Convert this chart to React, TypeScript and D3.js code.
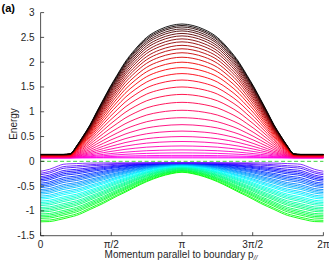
import React from "react";
import * as d3 from "d3";

// momentum sample positions on [0, π] (mirrored to [π, 2π])
const pHalf = [0, 0.2, 0.4, 0.5, 0.655, 0.8, 0.937, 1.1, 1.247, 1.4, 1.543, 1.7, 1.876, 2.1, 2.357, 2.65, 2.9, Math.PI];
// envelope curves
const upperTop = [0.14, 0.14, 0.14, 0.14, 0.15, 0.31, 0.5, 0.74, 1.0, 1.26, 1.5, 1.74, 2.0, 2.26, 2.5, 2.66, 2.74, 2.77];
const upperBottom = [0.07, 0.07, 0.07, 0.07, 0.07, 0.07, 0.07, 0.07, 0.07, 0.07, 0.07, 0.07, 0.07, 0.07, 0.07, 0.07, 0.07, 0.07];
const lowerTop = [-0.2, -0.16, -0.09, -0.06, -0.05, -0.045, -0.04, -0.035, -0.033, -0.032, -0.031, -0.03, -0.03, -0.03, -0.03, -0.03, -0.03, -0.03];
const lowerBottom = [-1.22, -1.215, -1.18, -1.16, -1.125, -1.09, -1.04, -0.97, -0.91, -0.845, -0.775, -0.70, -0.625, -0.52, -0.41, -0.31, -0.25, -0.22];
// upper-band levels at p = π (bottom → top)
const upperAtPi = [0.07, 0.09, 0.12, 0.17, 0.23, 0.31, 0.4, 0.5, 0.61, 0.74, 0.88, 1.03, 1.19, 1.35, 1.5, 1.64, 1.77, 1.89, 2.0, 2.1, 2.19, 2.27, 2.34, 2.41, 2.47, 2.53, 2.58, 2.63, 2.67, 2.71, 2.74, 2.77];
// lower-band levels at p = 0 (bottom → top)
const lowerAtZero = [-1.22, -1.19, -1.15, -1.12, -1.09, -1.06, -1.02, -0.99, -0.96, -0.93, -0.89, -0.86, -0.83, -0.8, -0.76, -0.73, -0.7, -0.66, -0.63, -0.6, -0.57, -0.53, -0.5, -0.47, -0.44, -0.4, -0.37, -0.34, -0.31, -0.27, -0.24, -0.2];

const yTicks = [-1.5, -1, -0.5, 0, 0.5, 1, 1.5, 2, 2.5, 3];
const xTicks = [0, Math.PI / 2, Math.PI, (3 * Math.PI) / 2, 2 * Math.PI];
const xTickLabels = ["0", "π/2", "π", "3π/2", "2π"];

const W = 329;
const H = 263;
const x = d3.scaleLinear().domain([0, 2 * Math.PI]).range([40.6, 323.4]);
const y = d3.scaleLinear().domain([-1.5, 3]).range([235.7, 12.6]);

const pFull = [...pHalf, ...pHalf.slice(0, -1).reverse().map((p) => 2 * Math.PI - p)];
const mirror = (arr: number[]) => [...arr, ...arr.slice(0, -1).reverse()];

const uT = mirror(upperTop);
const uB = mirror(upperBottom);
const lT = mirror(lowerTop);
const lB = mirror(lowerBottom);

const upperColor = d3.scaleLinear<string>().domain([0, 0.55, 1]).range(["#ff00ff", "#ff0000", "#000000"]);
const lowerColor = d3.scaleLinear<string>().domain([0, 0.45, 0.85, 1]).range(["#00ff00", "#00ffff", "#0000ff", "#7a1cff"]);

const line = d3
  .line<[number, number]>()
  .x((d) => x(d[0]))
  .y((d) => y(d[1]))
  .curve(d3.curveMonotoneX);

const piIdx = pHalf.length - 1;
const upperCurves = upperAtPi.map((v, i) => {
  const w = (v - upperBottom[piIdx]) / (upperTop[piIdx] - upperBottom[piIdx]);
  const pts: [number, number][] = pFull.map((p, j) => [p, uB[j] + w * (uT[j] - uB[j])]);
  return { d: line(pts) as string, color: upperColor(i / (upperAtPi.length - 1)) };
});

const R0 = lowerTop[0] - lowerBottom[0];
const lowerCurves = lowerAtZero.map((v, i) => {
  const s = (v - lowerBottom[0]) / R0;
  const pts: [number, number][] = pFull.map((p, j) => {
    const R = lT[j] - lB[j];
    const a = Math.pow(R0 / R, 0.4);
    const w = 1 - Math.pow(1 - s, a);
    return [p, lB[j] + w * R];
  });
  return { d: line(pts) as string, color: lowerColor(i / (lowerAtZero.length - 1)) };
});

export default function App() {
  const axisColor = "#262626";
  const font = "'Liberation Sans', Arial, Helvetica, sans-serif";
  return (
    <div style={{ position: "fixed", left: 0, top: 0 }}>
      <svg width={W} height={H} style={{ display: "block", background: "#fff" }} fontFamily={font}>
        {lowerCurves.map((c, i) => (
          <path key={"l" + i} d={c.d} fill="none" stroke={c.color} strokeWidth={0.9} />
        ))}
        {upperCurves.map((c, i) => (
          <path key={"u" + i} d={c.d} fill="none" stroke={c.color} strokeWidth={0.9} />
        ))}
        <line x1={x(0)} x2={x(2 * Math.PI)} y1={y(0)} y2={y(0)} stroke="#3fd43f" strokeWidth={1} strokeDasharray="4,2.5" />
        {/* axes */}
        <line x1={x(0)} x2={x(0)} y1={y(-1.5)} y2={y(3)} stroke={axisColor} strokeWidth={0.8} />
        <line x1={x(0)} x2={x(2 * Math.PI)} y1={y(-1.5)} y2={y(-1.5)} stroke={axisColor} strokeWidth={0.8} />
        {yTicks.map((t) => (
          <g key={"yt" + t}>
            <line x1={x(0)} x2={x(0) + 3.5} y1={y(t)} y2={y(t)} stroke={axisColor} strokeWidth={0.8} />
            <text x={x(0) - 6} y={y(t) + 3.5} textAnchor="end" fontSize={10} fill={axisColor}>
              {t}
            </text>
          </g>
        ))}
        {xTicks.map((t, i) => (
          <g key={"xt" + i}>
            <line x1={x(t)} x2={x(t)} y1={y(-1.5)} y2={y(-1.5) - 3.5} stroke={axisColor} strokeWidth={0.8} />
            <text x={x(t)} y={248} textAnchor="middle" fontSize={10} fill={axisColor}>
              {xTickLabels[i]}
            </text>
          </g>
        ))}
        <text x={181} y={257.5} textAnchor="middle" fontSize={10} fill={axisColor}>
          Momentum parallel to boundary p
          <tspan fontSize={7} dy={2.5} fontStyle="italic">//</tspan>
        </text>
        <text transform={`translate(17,124) rotate(-90)`} textAnchor="middle" fontSize={10} fill={axisColor}>
          Energy
        </text>
        <text x={1.5} y={11.5} fontSize={11} fontWeight="bold" fill="#000">
          (a)
        </text>
      </svg>
    </div>
  );
}
